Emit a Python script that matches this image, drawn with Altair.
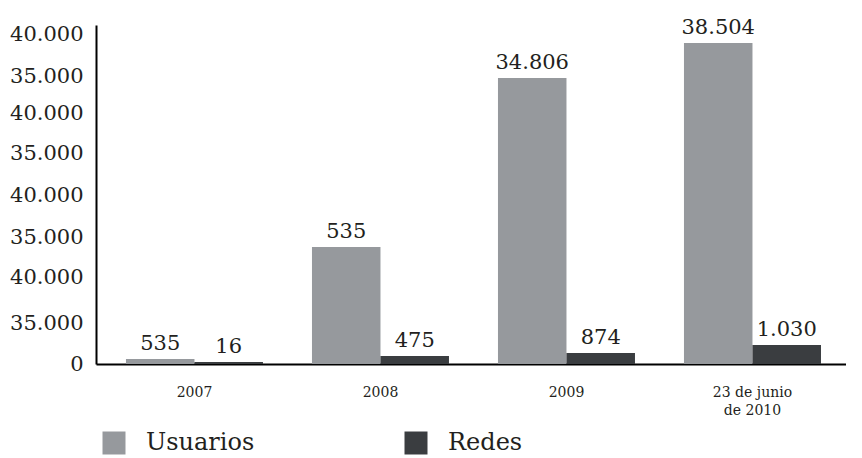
import altair as alt
import pandas as pd

categorias = ["2007", "2008", "2009", "23 de junio\nde 2010"]
series = ["Usuarios", "Redes"]
usuarios_etiqueta = ["535", "535", "34.806", "38.504"]
redes_etiqueta = ["16", "475", "874", "1.030"]
# bar heights (axis units)
usuarios_altura = [5, 117, 286, 321]
redes_altura = [2, 8, 11, 19]
# y-axis tick positions and their (printed) labels
eje_y_valores = [0, 41, 87, 127, 169, 211, 251, 288, 330]
eje_y_etiquetas = ["0", "35.000", "40.000", "35.000", "40.000",
                   "35.000", "40.000", "35.000", "40.000"]

rows = []
for i, c in enumerate(categorias):
    rows.append({"cat": c, "serie": "Usuarios", "altura": usuarios_altura[i], "etiqueta": usuarios_etiqueta[i]})
    rows.append({"cat": c, "serie": "Redes", "altura": redes_altura[i], "etiqueta": redes_etiqueta[i]})
df = pd.DataFrame(rows)

FONT = "DejaVu Serif"
INK = "#231f20"

label_expr = "[{}][indexof([{}], datum.value)]".format(
    ",".join("'" + s + "'" for s in eje_y_etiquetas),
    ",".join(str(v) for v in eje_y_valores),
)

x_enc = alt.X("cat:N", sort=categorias, title=None,
              scale=alt.Scale(paddingInner=0.2634, paddingOuter=0.1478, align=0.545),
              axis=alt.Axis(labelAngle=0, ticks=False, domainColor="black", domainWidth=2,
                            labelFont=FONT, labelFontSize=14, labelColor=INK,
                            labelPadding=21, labelLineHeight=18,
                            labelExpr="split(datum.label, '\\n')"))
xo_enc = alt.XOffset("serie:N", sort=series, scale=alt.Scale(paddingInner=0, paddingOuter=0))
y_enc = alt.Y("altura:Q", title=None,
              scale=alt.Scale(domain=[0, 339], nice=False, zero=True),
              axis=alt.Axis(values=eje_y_valores, labelExpr=label_expr, ticks=False,
                            grid=False, domainColor="black", domainWidth=2,
                            labelFont=FONT, labelFontSize=21, labelColor=INK,
                            labelPadding=13, labelBaseline="middle"))

color_enc = alt.Color("serie:N", sort=series,
                      scale=alt.Scale(domain=series, range=["#96999d", "#3a3d40"]),
                      legend=alt.Legend(title=None, orient="none", legendX=6, legendY=406,
                                        direction="horizontal", symbolType="square",
                                        symbolSize=529, symbolStrokeWidth=0,
                                        labelFont=FONT, labelFontSize=24, labelColor=INK,
                                        labelOffset=20, columnPadding=149))

bars = alt.Chart(df).mark_bar(size=68.5).encode(x=x_enc, xOffset=xo_enc, y=y_enc, color=color_enc)

texts = alt.Chart(df).mark_text(font=FONT, fontSize=21, color=INK, baseline="bottom",
                                align="center", dy=-5).encode(
    x=alt.X("cat:N", sort=categorias), xOffset=alt.XOffset("serie:N", sort=series),
    y="altura:Q", text="etiqueta:N")

chart = alt.layer(bars, texts).properties(
    width=750, height=339,
    autosize=alt.AutoSizeParams(type="none"),
    padding={"left": 88, "top": 17, "right": 0, "bottom": 94},
).configure_view(stroke=None)

chart.save("out.html", embed_options={"renderer": "svg", "actions": False})
